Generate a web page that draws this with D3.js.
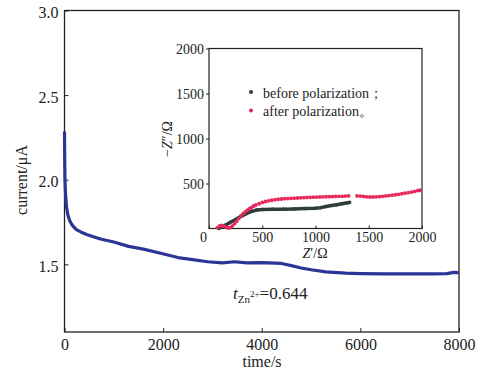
<!DOCTYPE html>
<html><head><meta charset="utf-8">
<script src="https://cdn.jsdelivr.net/npm/d3@7"></script>
<style>body{margin:0;background:#fff}svg{display:block}</style>
</head><body><svg id="c" width="483" height="369" font-family="Liberation Serif"></svg>
<script>
// main chart data
const timeS = [0,5,10,20,40,70,110,160,240,340,450,600,750,1000,1300,1600,1950,2300,2600,2900,3200,3450,3700,4000,4400,4600,4800,5000,5300,5700,6000,6500,7000,7500,7750,7900,8000];
const currentUA = [2.285,2.1,2.0,1.92,1.84,1.79,1.755,1.73,1.705,1.69,1.676,1.662,1.648,1.632,1.606,1.59,1.565,1.54,1.528,1.515,1.508,1.515,1.508,1.51,1.505,1.492,1.478,1.468,1.455,1.448,1.445,1.443,1.443,1.443,1.445,1.452,1.45];
const xTicks = [0,2000,4000,6000,8000];
const yTicks = [1.5,2.0,2.5,3.0];
// inset data
const beforeZre = [90,120,160,200,250,300,350,400,450,500,600,700,800,900,1000,1050,1100,1150,1200,1250,1300,1320];
const beforeZim = [0,20,40,70,100,135,165,190,205,210,213,215,218,221,224,232,245,255,265,276,285,290];
const afterZre = [80,100,120,140,160,180,200,220,240,260,280,300,320,340,360,380,400,420,440,470,500,530,560,590,620,650,680,710,740,770,800,830,860,890,920,950,980,1010,1040,1070,1100,1130,1160,1190,1220,1250,1280,1310,1390,1420,1450,1480,1510,1540,1570,1600,1630,1660,1690,1720,1750,1780,1810,1840,1870,1900,1930,1960,1980];
const afterZim = [10,30,35,25,15,5,10,30,55,80,110,140,165,185,205,220,235,250,262,275,290,300,308,314,320,325,328,331,333,335,337,339,341,343,345,346,348,349,350,352,353,354,355,356,357,358,360,362,362,360,356,352,350,350,352,355,358,362,366,370,375,380,386,392,398,405,412,420,425];
const insetXTicks = [0,500,1000,1500,2000];
const insetYTicks = [500,1000,1500,2000];

const FONT = "Liberation Serif";
const INK = "#222";
const svg = d3.select("#c");
const x = d3.scaleLinear().domain([0,8000]).range([64.5,459]);
const y = d3.scaleLinear().domain([1.1,3.0]).range([332,10.5]);

function styleAxis(g, size){
  g.attr("font-family",FONT);
  g.select(".domain").remove();
  g.selectAll("line").attr("stroke",INK);
  g.selectAll("text").attr("font-family",FONT).attr("font-size",size).attr("fill",INK);
}

// main frame
svg.append("rect").attr("x",64.5).attr("y",10.5).attr("width",394.5).attr("height",321.5)
  .attr("fill","none").attr("stroke",INK).attr("stroke-width",1.3);
const gx = svg.append("g").attr("transform","translate(0,332)")
  .call(d3.axisBottom(x).tickValues(xTicks).tickFormat(d3.format("d")).tickSizeInner(-4).tickSizeOuter(0).tickPadding(7));
const gy = svg.append("g").attr("transform","translate(64.5,0)")
  .call(d3.axisLeft(y).tickValues(yTicks).tickFormat(d3.format(".1f")).tickSizeInner(-4).tickSizeOuter(0).tickPadding(6));
styleAxis(gx,16); styleAxis(gy,16);
gy.selectAll("text").attr("dy","0.45em");

const line = d3.line().x((d,i)=>x(timeS[i])).y(d=>y(d));
svg.append("path").datum(currentUA).attr("d",line).attr("fill","none")
  .attr("stroke","#2a3596").attr("stroke-width",3.2).attr("stroke-linejoin","round");

svg.append("text").attr("x",262).attr("y",367).attr("text-anchor","middle").attr("font-family",FONT).attr("font-size",16).attr("fill",INK).text("time/s");
svg.append("text").attr("transform","translate(27,180) rotate(-90)").attr("text-anchor","middle").attr("font-family",FONT).attr("font-size",16).attr("fill",INK).text("current/μA");

// t label
const tl = svg.append("text").attr("x",233).attr("y",299).attr("font-family",FONT).attr("font-size",17).attr("fill",INK);
tl.append("tspan").attr("font-style","italic").text("t");
tl.append("tspan").attr("dy",4).attr("font-size",11).text("Zn");
tl.append("tspan").attr("dy",-6).attr("font-size",9).text("2+");
tl.append("tspan").attr("dy",2).text("=0.644");

// inset
const ix = d3.scaleLinear().domain([0,2000]).range([209,422]);
const iy = d3.scaleLinear().domain([0,2000]).range([228.5,48.5]);
svg.append("rect").attr("x",209).attr("y",48.5).attr("width",213).attr("height",180)
  .attr("fill","#fff").attr("stroke",INK).attr("stroke-width",1.2);
const igx = svg.append("g").attr("transform","translate(0,228.5)")
  .call(d3.axisBottom(ix).tickValues(insetXTicks).tickFormat(d3.format("d")).tickSizeInner(-3).tickSizeOuter(0).tickPadding(4));
const igy = svg.append("g").attr("transform","translate(209,0)")
  .call(d3.axisLeft(iy).tickValues(insetYTicks).tickFormat(d3.format("d")).tickSizeInner(3).tickSizeOuter(0).tickPadding(2));
styleAxis(igx,14); styleAxis(igy,14);
igx.selectAll("text").filter(d=>d===0).attr("dx","-6");
igy.selectAll("text").attr("dy","0.35em");

const xl = svg.append("text").attr("x",315).attr("y",258).attr("text-anchor","middle").attr("font-family",FONT).attr("font-size",14).attr("fill",INK);
xl.append("tspan").attr("font-style","italic").text("Z");
xl.append("tspan").text("′/Ω");
const yl = svg.append("text").attr("transform","translate(172,139) rotate(-90)").attr("text-anchor","middle").attr("font-family",FONT).attr("font-size",14).attr("fill",INK);
yl.append("tspan").text("−");
yl.append("tspan").attr("font-style","italic").text("Z");
yl.append("tspan").text("″/Ω");

const bLine = d3.line().x((d,i)=>ix(beforeZre[i])).y(d=>iy(d));
svg.append("path").datum(beforeZim).attr("d",bLine).attr("fill","none")
  .attr("stroke","#2e3d3d").attr("stroke-width",3.5).attr("stroke-linejoin","round");
svg.selectAll("circle.b").data(beforeZim).enter().append("circle").attr("class","b")
  .attr("cx",(d,i)=>ix(beforeZre[i])).attr("cy",d=>iy(d)).attr("r",1.8).attr("fill","#2e3d3d");
svg.selectAll("circle.a").data(afterZim).enter().append("circle").attr("class","a")
  .attr("cx",(d,i)=>ix(afterZre[i])).attr("cy",d=>iy(d)).attr("r",1.9).attr("fill","#e8285a");

// legend
svg.append("circle").attr("cx",251).attr("cy",92).attr("r",2).attr("fill","#2e3d3d");
svg.append("circle").attr("cx",251).attr("cy",110.5).attr("r",2).attr("fill","#e8285a");
svg.append("text").attr("x",263).attr("y",97.5).attr("font-family",FONT).attr("font-size",14).attr("fill",INK).text("before polarization；");
svg.append("text").attr("x",263).attr("y",116).attr("font-family",FONT).attr("font-size",14).attr("fill",INK).text("after polarization。");
</script></body></html>
